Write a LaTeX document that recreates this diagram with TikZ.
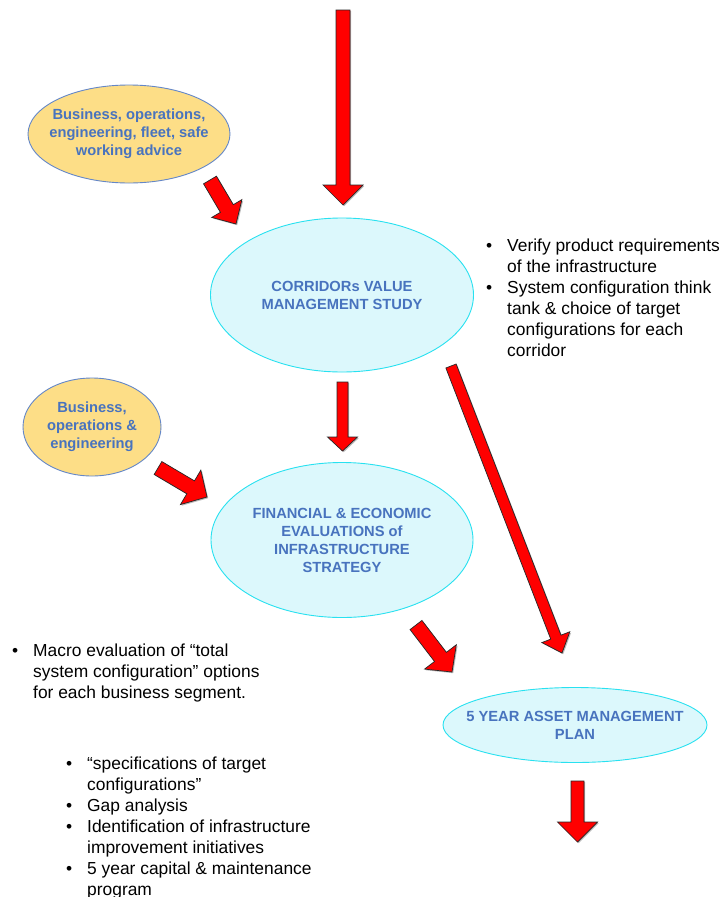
\documentclass[tikz,border=0pt]{standalone}
\usepackage{fontspec}
\setmainfont{Liberation Sans}
\usetikzlibrary{shapes.geometric,calc,shadows}
\definecolor{txtblue}{RGB}{72,115,190}
\definecolor{yfill}{RGB}{253,222,135}
\definecolor{yedge}{RGB}{100,135,200}
\definecolor{cfill}{RGB}{220,248,252}
\definecolor{cedge}{RGB}{40,225,240}
\definecolor{arrred}{RGB}{255,0,0}
\newcommand\bul{\llap{\textbullet\hspace{15pt}}}
\newcommand\fatarrow[5]{%
  \path ($(#2)!#5!(#1)$) coordinate (fh);
  \path[fatarr] ($(#1)!#3!90:(#2)$) -- ($(fh)!#3!90:(#2)$) -- ($(fh)!#4!90:(#2)$) -- (#2)
     -- ($(fh)!#4!-90:(#2)$) -- ($(fh)!#3!-90:(#2)$) -- ($(#1)!#3!-90:(#2)$) -- cycle;
}
\tikzset{
 yell/.style={ellipse, draw=yedge, fill=yfill, line width=0.9pt, inner sep=0pt},
 cyanell/.style={ellipse, draw=cedge, fill=cfill, line width=0.9pt, inner sep=0pt},
 btext/.style={text=txtblue, font=\fontsize{14.7}{18}\selectfont\bfseries, align=center, inner sep=0pt},
 bullets/.style={font=\fontsize{17.4}{20.9}\selectfont, align=left, inner sep=0pt, anchor=base west},
 fatarr/.style={fill=arrred, draw=black!85, line width=0.7pt, line join=miter,
   drop shadow={shadow xshift=1.2pt, shadow yshift=-1.2pt, opacity=0.45, fill=black!60}},
}
\begin{document}
\begin{tikzpicture}[x=1pt,y=-1pt]
\fill[white] (0,0) rectangle (722,897);
\useasboundingbox (0,0) rectangle (722,897);

% ellipses
\node[yell, minimum width=202pt, minimum height=98pt,
  label={[btext]center:Business, operations,\\engineering, fleet, safe\\working advice}] (adv) at (129,134) {};
\node[cyanell, minimum width=263pt, minimum height=154pt,
  label={[btext]center:CORRIDORs VALUE\\MANAGEMENT STUDY}] (corr) at (342,295) {};
\node[yell, minimum width=138pt, minimum height=98pt,
  label={[btext]center:Business,\\operations \&\\engineering}] (boe) at (92,427) {};
\node[cyanell, minimum width=262pt, minimum height=155pt,
  label={[btext]center:FINANCIAL \& ECONOMIC\\EVALUATIONS of\\INFRASTRUCTURE\\STRATEGY}] (fin) at (342,540) {};
\node[cyanell, minimum width=264pt, minimum height=75pt,
  label={[btext]center:5 YEAR ASSET MANAGEMENT\\PLAN}] (plan) at (575,725) {};

% arrows
\coordinate (a1s) at (343,10);   \coordinate (a1e) at (343,205);
\coordinate (a2s) at (210,180);  \coordinate (a2e) at (236,224);
\coordinate (a3s) at (342.5,382);\coordinate (a3e) at (342.5,451);
\coordinate (a4s) at (158,468);  \coordinate (a4e) at (207,497);
\coordinate (a5s) at (451,366);  \coordinate (a5e) at (562,653);
\coordinate (a6s) at (416,625);  \coordinate (a6e) at (452,672);
\coordinate (a7s) at (577.5,781);\coordinate (a7e) at (577.5,842);
\fatarrow{a1s}{a1e}{7pt}{20pt}{20pt}
\fatarrow{a2s}{a2e}{7.5pt}{17.5pt}{18pt}
\fatarrow{a3s}{a3e}{5.5pt}{15pt}{14pt}
\fatarrow{a4s}{a4e}{7.5pt}{20pt}{19pt}
\fatarrow{a5s}{a5e}{5.5pt}{15pt}{17pt}
\fatarrow{a6s}{a6e}{7.5pt}{20pt}{19pt}
\fatarrow{a7s}{a7e}{6.5pt}{20pt}{20pt}

% bullet texts (anchored at the baseline of their last line)
\node[bullets] (vm) at (507,356) {\bul Verify product requirements\\of the infrastructure\\\bul System configuration think\\tank \& choice of target\\configurations for each\\corridor};
\node[bullets] (macro) at (33,698) {\bul Macro evaluation of “total\\system configuration” options\\for each business segment.};
\node[bullets] (specs) at (87,895) {\bul “specifications of target\\configurations”\\\bul Gap analysis\\\bul Identification of infrastructure\\improvement initiatives\\\bul 5 year capital \& maintenance\\program};
\end{tikzpicture}
\end{document}
